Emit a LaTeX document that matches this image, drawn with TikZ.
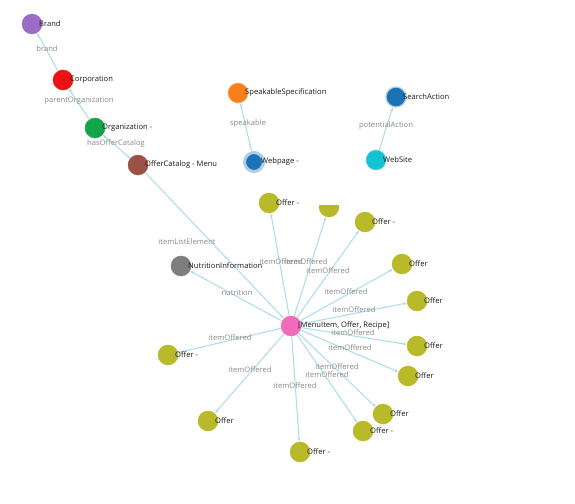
\documentclass[tikz,border=0pt]{standalone}
\usepackage{fontspec}
\setmainfont{Open Sans}
\usetikzlibrary{arrows.meta}
\definecolor{cBrand}{HTML}{9C6CC8}
\definecolor{cCorp}{HTML}{EE1111}
\definecolor{cOrg}{HTML}{12A54A}
\definecolor{cCat}{HTML}{9A5246}
\definecolor{cSpeak}{HTML}{F7801A}
\definecolor{cBlue}{HTML}{1A73B4}
\definecolor{cSite}{HTML}{14C3D2}
\definecolor{cOffer}{HTML}{B9BA2A}
\definecolor{cNutri}{HTML}{7E7E7E}
\definecolor{cMenu}{HTML}{F26BBB}
\definecolor{cEdge}{HTML}{A9DCEA}
\definecolor{cLbl}{HTML}{8A8A8A}
\tikzset{
  dot/.style={circle, fill=#1, minimum size=20pt, inner sep=0pt, draw=#1!60, line width=0.6pt},
  nlabel/.style={font=\fontsize{7.6}{8}\selectfont, text=black!90, inner sep=0pt},
  elabel/.style={font=\fontsize{7.6}{8}\selectfont, text=cLbl, inner sep=0pt},
  conn/.style={draw=cEdge, line width=1pt, -{Latex[length=3.5pt,width=3pt]}},
}
\newcommand{\nlab}[2]{\node[nlabel, anchor=west] (#1t) at ([xshift=7pt]#1.center) {#2};}
\begin{document}
\begin{tikzpicture}[x=1pt,y=-1pt]
\useasboundingbox[fill=white] (0,0) rectangle (575,503);
% nodes
\node[dot=cBrand] (brand) at (32,24) {};
\node[dot=cCorp] (corp) at (63,80) {};
\node[dot=cOrg] (org) at (95,128) {};
\node[dot=cCat] (cat) at (138,165) {};
\node[dot=cSpeak] (speak) at (238,93) {};
\node[circle, fill=cBlue, minimum size=19pt, inner sep=0pt, draw=cBlue!35, line width=3pt] (web) at (254,162) {};
\node[circle, fill=cBlue, minimum size=20pt, inner sep=0pt, draw=cBlue!35, line width=1.2pt] (search) at (396,97) {};
\node[dot=cSite] (site) at (376,160) {};
\node[dot=cMenu] (menu) at (291,326) {};
\node[dot=cNutri] (nutri) at (181,266) {};
\node[dot=cOffer] (o1) at (269,203) {};
\node[dot=cOffer] (o2) at (329,207) {};
\node[dot=cOffer] (o3) at (365,222) {};
\node[dot=cOffer] (o4) at (402,264) {};
\node[dot=cOffer] (o5) at (417,301) {};
\node[dot=cOffer] (o6) at (417,346) {};
\node[dot=cOffer] (o7) at (408,376) {};
\node[dot=cOffer] (o8) at (383,414) {};
\node[dot=cOffer] (o9) at (363,431) {};
\node[dot=cOffer] (o10) at (300,452) {};
\node[dot=cOffer] (o11) at (208,421) {};
\node[dot=cOffer] (o12) at (168,355) {};
% connectors
\draw[conn] (corp) -- (brand);
\draw[conn] (org) -- (corp);
\draw[conn] (cat) -- (org);
\draw[conn] (web) -- (speak);
\draw[conn] (site) -- (search);
\draw[conn] (cat) -- (menu);
\draw[conn] (menu) -- (nutri);
\foreach \o in {o1,o2,o3,o4,o5,o6,o7,o8,o9,o10,o11,o12}{\draw[conn] (menu) -- (\o);}
% redraw circles on top
\foreach \n/\c in {menu/cMenu,nutri/cNutri,cat/cCat,o1/cOffer,o2/cOffer,o3/cOffer,o4/cOffer,o5/cOffer,o6/cOffer,o7/cOffer,o8/cOffer,o9/cOffer,o10/cOffer,o11/cOffer,o12/cOffer,brand/cBrand,corp/cCorp,org/cOrg}{\fill[\c] (\n.center) circle (10pt);}
\fill[white] (316,194) rectangle (342,205);
% node labels
\nlab{brand}{Brand}
\nlab{corp}{Corporation}
\nlab{org}{Organization -}
\nlab{cat}{OfferCatalog - Menu}
\nlab{speak}{SpeakableSpecification}
\nlab{web}{Webpage -}
\nlab{search}{SearchAction}
\nlab{site}{WebSite}
\nlab{menu}{[MenuItem, Offer, Recipe]}
\nlab{nutri}{NutritionInformation}
\nlab{o1}{Offer -}
\nlab{o3}{Offer -}
\nlab{o4}{Offer}
\nlab{o5}{Offer}
\nlab{o6}{Offer}
\nlab{o7}{Offer}
\nlab{o8}{Offer}
\nlab{o9}{Offer -}
\nlab{o10}{Offer -}
\nlab{o11}{Offer}
\nlab{o12}{Offer -}
% edge labels
\node[elabel] (l1) at (47,49) {brand};
\node[elabel] (l2) at (79,101) {parentOrganization};
\node[elabel] (l3) at (116,144) {hasOfferCatalog};
\node[elabel] (l4) at (248,124) {speakable};
\node[elabel] (l5) at (386,126) {potentialAction};
\node[elabel] (l6) at (187,242) {itemListElement};
\node[elabel] (l7) at (237,293) {nutrition};
\node[elabel] (e1) at (281,262) {itemOffered};
\node[elabel] (e2) at (306,262) {itemOffered};
\node[elabel] (e3) at (328,271) {itemOffered};
\node[elabel] (e4) at (346,292) {itemOffered};
\node[elabel] (e5) at (354,310) {itemOffered};
\node[elabel] (e6) at (353,333) {itemOffered};
\node[elabel] (e7) at (230,338) {itemOffered};
\node[elabel] (e8) at (350,348) {itemOffered};
\node[elabel] (e9) at (337,367) {itemOffered};
\node[elabel] (e10) at (327,375) {itemOffered};
\node[elabel] (e11) at (250,370) {itemOffered};
\node[elabel] (e12) at (295,386) {itemOffered};
\end{tikzpicture}
\end{document}
